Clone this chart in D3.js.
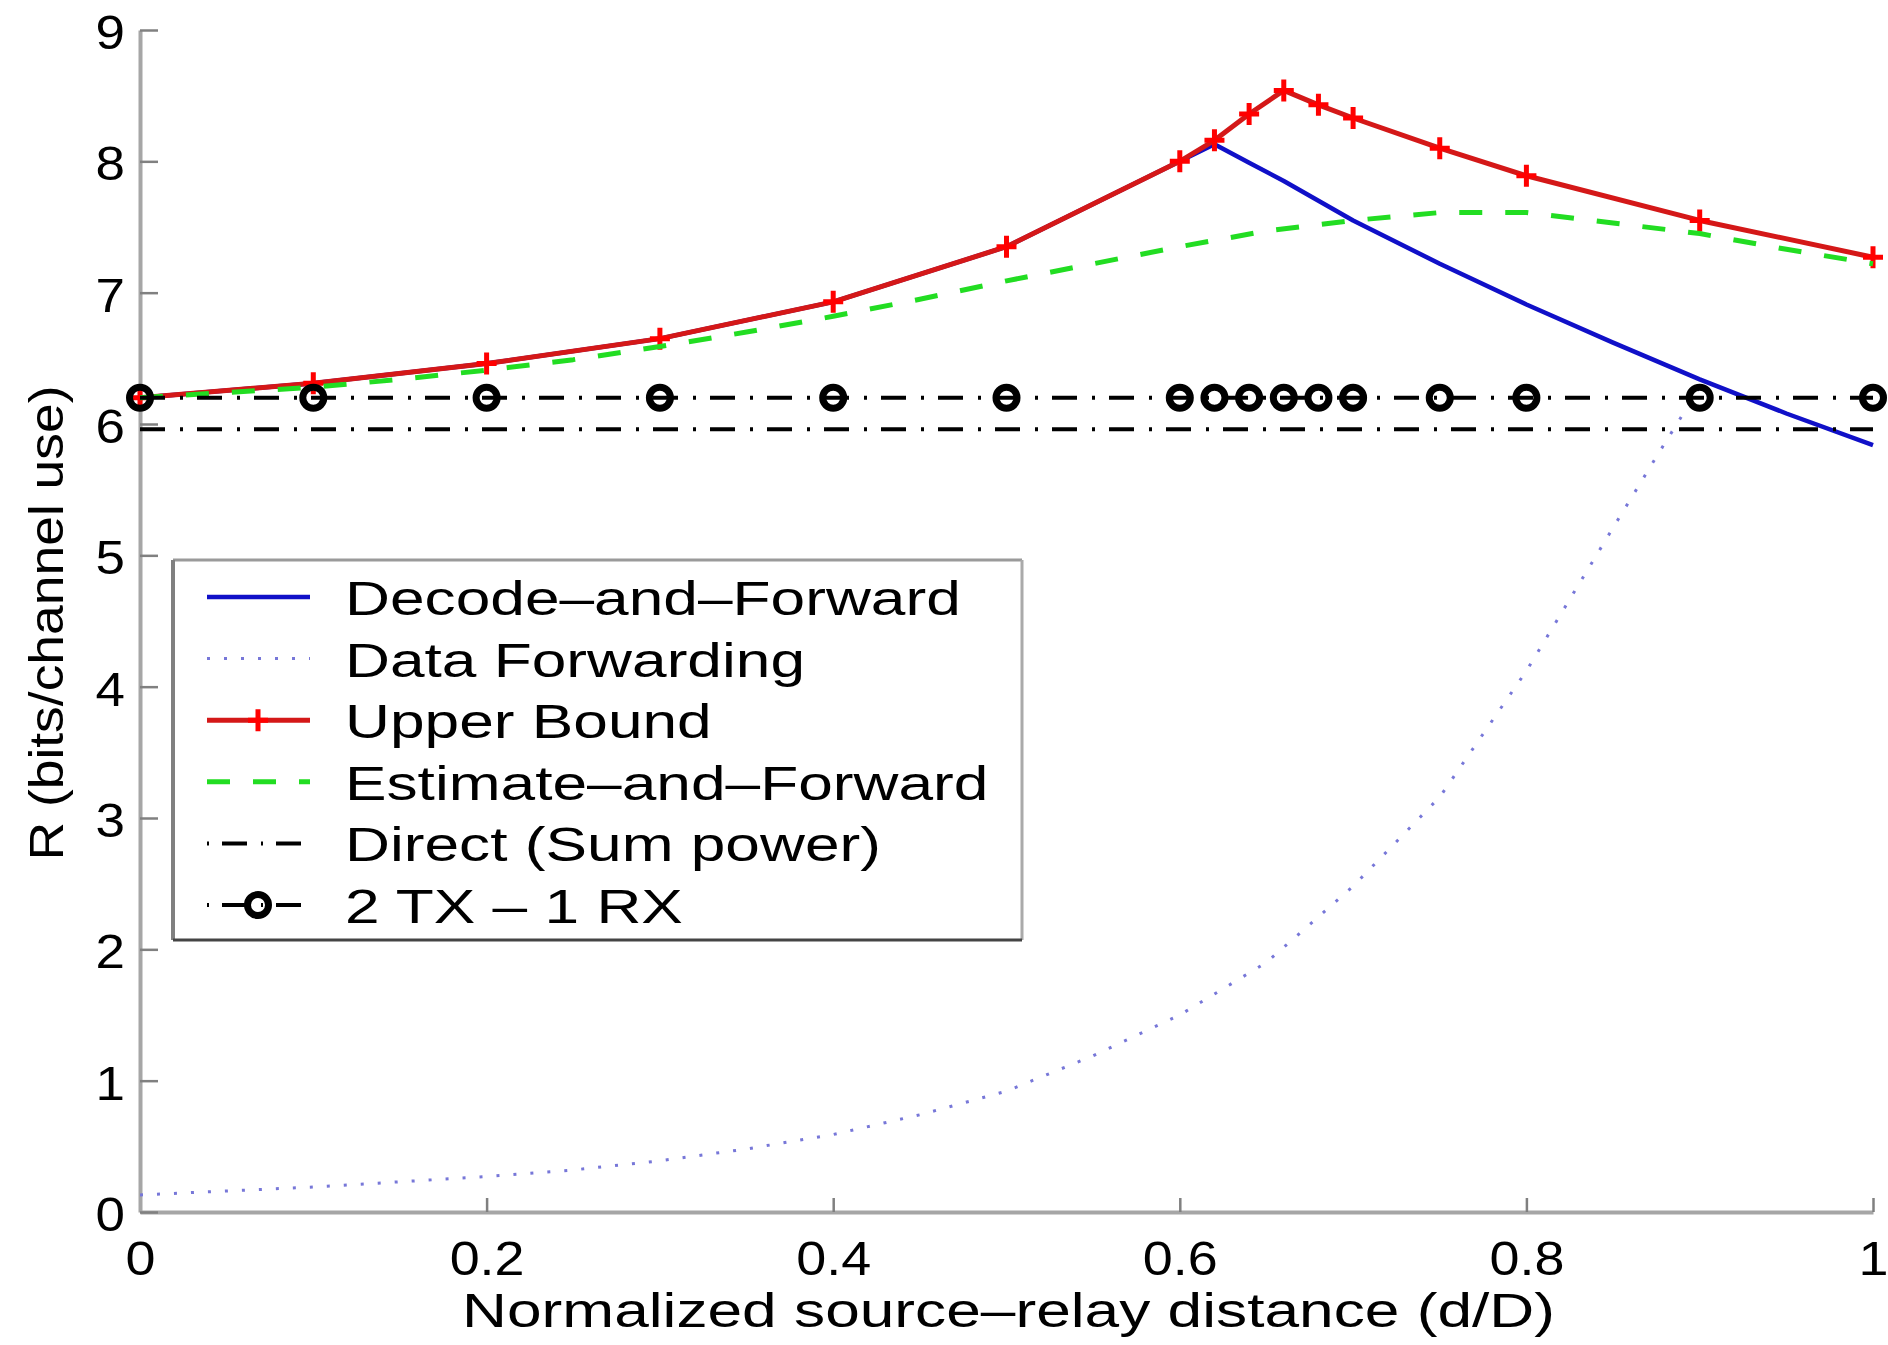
<!DOCTYPE html>
<html><head><meta charset="utf-8">
<script src="https://cdn.jsdelivr.net/npm/d3@7"></script>
<style>body{margin:0;background:#fff}svg{display:block}</style></head>
<body><svg id="c" width="1888" height="1345"></svg>
<script>
// ---- data ----
const xTicks = [0, 0.2, 0.4, 0.6, 0.8, 1];
const yTicks = [0, 1, 2, 3, 4, 5, 6, 7, 8, 9];
const seriesNames = ["Decode–and–Forward", "Data Forwarding", "Upper Bound", "Estimate–and–Forward", "Direct (Sum power)", "2 TX – 1 RX"];

const markX = [0, 0.1, 0.2, 0.3, 0.4, 0.5, 0.6, 0.62, 0.64, 0.66, 0.68, 0.7, 0.75, 0.8, 0.9, 1.0];
const upperBound = [6.20, 6.31, 6.46, 6.65, 6.93, 7.35, 8.00, 8.16, 8.36, 8.54, 8.43, 8.33, 8.10, 7.89, 7.55, 7.27];
const twoTxOneRx = [6.20, 6.20, 6.20, 6.20, 6.20, 6.20, 6.20, 6.20, 6.20, 6.20, 6.20, 6.20, 6.20, 6.20, 6.20, 6.20];

const dfX = [0, 0.1, 0.2, 0.3, 0.4, 0.5, 0.6, 0.62, 0.64, 0.66, 0.68, 0.7, 0.75, 0.8, 0.85, 0.9, 0.95, 1.0];
const decodeForward = [6.20, 6.31, 6.46, 6.65, 6.93, 7.35, 8.00, 8.13, 7.99, 7.85, 7.70, 7.55, 7.22, 6.91, 6.62, 6.34, 6.08, 5.84];

const efX = [0, 0.05, 0.1, 0.15, 0.2, 0.25, 0.3, 0.35, 0.4, 0.45, 0.5, 0.55, 0.6, 0.65, 0.7, 0.75, 0.8, 0.85, 0.9, 0.95, 1.0];
const estimateForward = [6.20, 6.24, 6.28, 6.34, 6.41, 6.49, 6.59, 6.70, 6.82, 6.95, 7.09, 7.22, 7.35, 7.47, 7.55, 7.61, 7.61, 7.53, 7.45, 7.33, 7.22];

const dataFwdX = [0, 0.05, 0.1, 0.15, 0.2, 0.25, 0.3, 0.35, 0.4, 0.45, 0.5, 0.55, 0.6, 0.65, 0.7, 0.75, 0.8, 0.85, 0.875, 0.9];
const dataForwarding = [0.13, 0.16, 0.19, 0.23, 0.27, 0.32, 0.39, 0.48, 0.59, 0.74, 0.92, 1.19, 1.50, 1.90, 2.48, 3.16, 4.12, 5.21, 5.75, 6.28];

const directX = [0, 1];
const directSum = [5.96, 5.96];

// ---- layout ----
const svg = d3.select("#c");
svg.append("rect").attr("width", 1888).attr("height", 1345).attr("fill", "#fff");
const L = 140, R = 1873, T = 30, B = 1212;
const x = d3.scaleLinear().domain([0, 1]).range([L, R]);
const y = d3.scaleLinear().domain([0, 9]).range([B, T]);
const FONT = "'Liberation Sans', Arial, Helvetica, sans-serif";
const FS = 49;

function stretch(sel, k) {
  sel.each(function () {
    const w = this.getComputedTextLength();
    d3.select(this).attr("textLength", w * k).attr("lengthAdjust", "spacingAndGlyphs");
  });
}

// axes
const gx = svg.append("g").attr("transform", `translate(0,${B})`)
  .call(d3.axisBottom(x).tickValues(xTicks).tickFormat(d => String(d)).tickSize(-14).tickSizeOuter(0).tickPadding(28));
const gy = svg.append("g").attr("transform", `translate(${L},0)`)
  .call(d3.axisLeft(y).tickValues(yTicks).tickFormat(d => String(d)).tickSize(-18).tickSizeOuter(0).tickPadding(15));
[gx, gy].forEach(g => {
  g.select(".domain").attr("stroke", "#a6a6a6").attr("stroke-width", 4);
  g.selectAll(".tick line").attr("stroke", "#808080").attr("stroke-width", 2.5);
  g.selectAll(".tick text").attr("fill", "#000").style("font-family", FONT).style("font-size", FS + "px");
});
gy.selectAll(".tick text").attr("dy", "0.38em");
stretch(gx.selectAll(".tick text"), 1.1);
stretch(gy.selectAll(".tick text"), 1.08);

// axis titles
const xt = svg.append("text").attr("x", (L + R) / 2 + 2).attr("y", 1327).attr("text-anchor", "middle")
  .style("font-family", FONT).style("font-size", FS + "px").text("Normalized source–relay distance (d/D)");
stretch(xt, 1.27);
const yt = svg.append("text").attr("transform", `translate(63,${(T + B) / 2 + 2}) rotate(-90)`).attr("text-anchor", "middle")
  .style("font-family", FONT).style("font-size", FS + "px").text("R (bits/channel use)");
stretch(yt, 1.09);

const line = d3.line().x(d => x(d[0])).y(d => y(d[1]));
const zip = (xs, ys) => xs.map((v, i) => [v, ys[i]]);

const styles = [
  {stroke: "#1010c8", width: 4.5, dash: null},
  {stroke: "#7777d8", width: 3, dash: "3,14"},
  {stroke: "#d41818", width: 5, dash: null},
  {stroke: "#22dd22", width: 5, dash: "23,23"},
  {stroke: "#000", width: 4, dash: "25,15,3,14"},
  {stroke: "#000", width: 4, dash: "25,15,3,14"}
];
const series = [
  zip(dfX, decodeForward),
  zip(dataFwdX, dataForwarding),
  zip(markX, upperBound),
  zip(efX, estimateForward),
  zip(directX, directSum),
  zip(markX, twoTxOneRx)
];

function plus(g, cx, cy) {
  g.append("path").attr("d", `M${cx - 10},${cy}H${cx + 10}M${cx},${cy - 11}V${cy + 11}`)
    .attr("stroke", "#ff0000").attr("stroke-width", 5).attr("fill", "none");
}
function ring(g, cx, cy) {
  g.append("circle").attr("cx", cx).attr("cy", cy).attr("r", 10.5)
    .attr("fill", "none").attr("stroke", "#000").attr("stroke-width", 7);
}

series.forEach((data, i) => {
  const s = styles[i];
  const g = svg.append("g");
  g.append("path").attr("d", line(data)).attr("fill", "none").attr("stroke", s.stroke)
    .attr("stroke-width", s.width).attr("stroke-dasharray", s.dash).attr("stroke-linejoin", "round");
  if (i === 2) data.forEach(d => plus(g, x(d[0]), y(d[1])));
  if (i === 5) data.forEach(d => ring(g, x(d[0]), y(d[1])));
});

// legend
const lg = svg.append("g");
const LX0 = 173, LX1 = 1022, LY0 = 560, LY1 = 940;
lg.append("rect").attr("x", LX0).attr("y", LY0).attr("width", LX1 - LX0).attr("height", LY1 - LY0).attr("fill", "#fff");
lg.append("line").attr("x1", LX0).attr("x2", LX1).attr("y1", LY0).attr("y2", LY0).attr("stroke", "#9a9a9a").attr("stroke-width", 3);
lg.append("line").attr("x1", LX1).attr("x2", LX1).attr("y1", LY0).attr("y2", LY1).attr("stroke", "#aaaaaa").attr("stroke-width", 3);
lg.append("line").attr("x1", LX0).attr("x2", LX0).attr("y1", LY0).attr("y2", LY1).attr("stroke", "#808080").attr("stroke-width", 4);
lg.append("line").attr("x1", LX0).attr("x2", LX1).attr("y1", LY1).attr("y2", LY1).attr("stroke", "#444").attr("stroke-width", 3);
const rowY = i => 597 + i * 61.6;
seriesNames.forEach((name, i) => {
  const s = styles[i];
  const yy = rowY(i);
  const g = lg.append("g");
  let dash = s.dash;
  if (i === 4 || i === 5) { dash = "2,13,25,14"; }
  g.append("line").attr("x1", 207).attr("x2", 310).attr("y1", yy).attr("y2", yy)
    .attr("stroke", s.stroke).attr("stroke-width", s.width).attr("stroke-dasharray", dash);
  if (i === 2) plus(g, 258, yy);
  if (i === 5) ring(g, 258, yy);
  const t = g.append("text").attr("x", 345).attr("y", yy + 18).style("font-family", FONT).style("font-size", FS + "px").text(name);
  stretch(t, 1.27);
});
</script>
</body></html>
